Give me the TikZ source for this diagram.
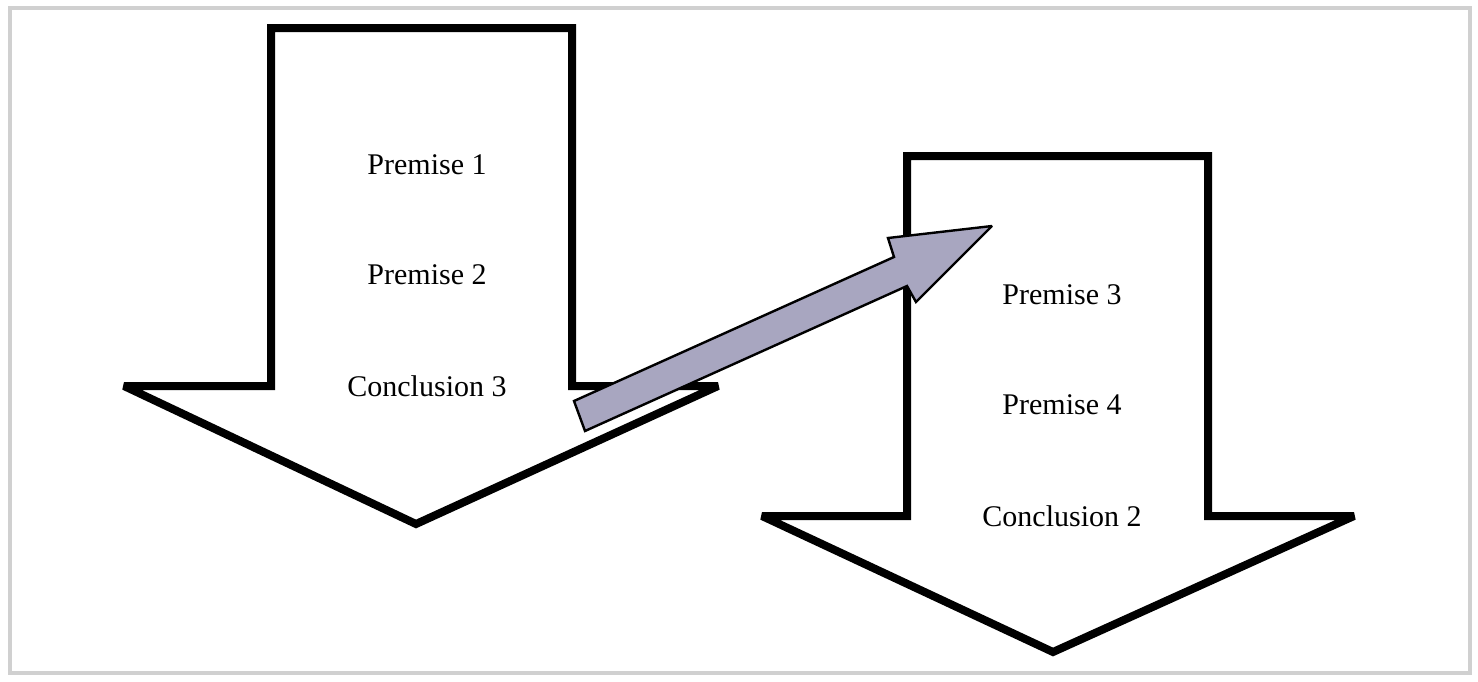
\documentclass[tikz,border=0pt]{standalone}
\usepackage{fontspec}
\setmainfont{Liberation Serif}
\definecolor{arrowfill}{HTML}{A8A6C0}
\definecolor{framegray}{HTML}{D0D0D0}
\tikzset{
  bigarrow/.style={draw=black, line width=4pt, fill=white, miter limit=2},
  linkarrow/.style={draw=black, line width=1.2pt, fill=arrowfill, miter limit=2},
  lbl/.style={font=\fontsize{15}{18}\selectfont, inner sep=0pt},
  frame/.style={draw=framegray, line width=2pt}
}
\begin{document}
\begin{tikzpicture}[x=0.5pt,y=-0.5pt]
\useasboundingbox (0,0) rectangle (1478,681);
\draw[frame] (10,8) rectangle (1470,673);
% left big arrow
\draw[bigarrow] (271,28) -- (572,28) -- (572,386) -- (718,386) -- (416,524)
  -- (124,386) -- (271,386) -- cycle;
% right big arrow
\draw[bigarrow] (907,156) -- (1208,156) -- (1208,516) -- (1354,516) -- (1053,652)
  -- (762,516) -- (907,516) -- cycle;
% labels
\node[lbl] (p1) at (427,165) {Premise 1};
\node[lbl] (p2) at (427,275) {Premise 2};
\node[lbl] (c3) at (427,386) {Conclusion 3};
\node[lbl] (p3) at (1062,295) {Premise 3};
\node[lbl] (p4) at (1062,405) {Premise 4};
\node[lbl] (c2) at (1062,516) {Conclusion 2};
% link arrow
\draw[linkarrow] (574,401) -- (894,257) -- (888,238) -- (992,226) -- (916,302)
  -- (907,286) -- (585,431) -- cycle;
\end{tikzpicture}
\end{document}
